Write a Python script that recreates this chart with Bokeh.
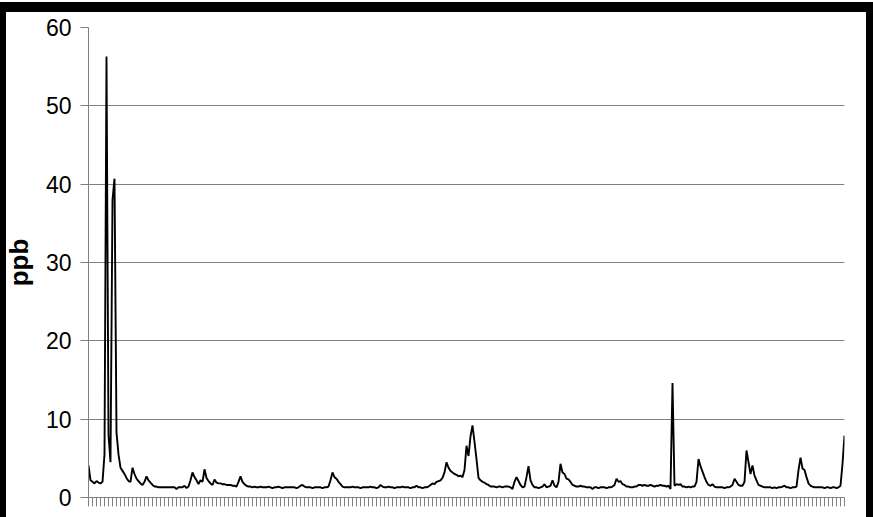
from bokeh.plotting import figure
from bokeh.models import FixedTicker, CustomJSTickFormatter, Range1d, GlobalInlineStyleSheet
from bokeh.embed import file_html
from bokeh.resources import INLINE

# ppb readings (one value per sample)
ppb_a = [4.1, 2.2, 2.0, 1.8, 2.1, 1.9, 1.8, 2.0,
         5.5, 56.3, 8.0, 4.5, 38.0, 40.7, 8.3, 5.5, 3.8,
         3.4, 3.0, 2.5, 2.1, 2.0,
         3.8, 3.0, 2.4, 2.1, 1.8, 1.6, 2.0, 2.7, 2.2, 1.9, 1.6, 1.4,
         1.4, 1.3, 1.3, 1.3, 1.3, 1.3, 1.3, 1.3, 1.3, 1.3,
         1.1, 1.3, 1.3, 1.3, 1.5, 1.2, 1.4,
         2.2, 3.2, 2.6, 2.2, 1.7, 2.2, 2.0, 3.6, 2.5, 2.1, 1.8, 1.6, 2.3, 1.9,
         1.8, 1.8, 1.7, 1.7, 1.6, 1.6, 1.6, 1.5, 1.5, 1.4,
         2.0, 2.7, 2.0, 1.7, 1.5]
ppb_b = [1.4, 1.4, 1.3, 1.4, 1.3, 1.3, 1.4, 1.3, 1.3, 1.3, 1.4, 1.3, 1.2, 1.3, 1.3, 1.4, 1.3, 1.2, 1.3, 1.3, 1.3,
         1.3, 1.3, 1.3, 1.2, 1.3, 1.5, 1.6, 1.4, 1.3, 1.3, 1.3, 1.2, 1.3, 1.3, 1.3, 1.3, 1.2, 1.3, 1.3, 1.4,
         2.2, 3.2, 2.6, 2.4, 2.0, 1.7, 1.4,
         1.3, 1.3, 1.3, 1.3, 1.4, 1.3, 1.3, 1.3, 1.2, 1.3, 1.3, 1.3, 1.3, 1.4, 1.3, 1.3, 1.2, 1.3,
         1.6, 1.4,
         1.3, 1.3, 1.4, 1.3, 1.3, 1.2, 1.3, 1.3, 1.3, 1.4, 1.3, 1.3, 1.3, 1.2, 1.3, 1.3,
         1.5, 1.3,
         1.3, 1.2, 1.3, 1.3, 1.4, 1.6]
ppb_c = [1.8, 1.7, 2.0, 2.1, 2.2, 2.5, 3.2, 4.5, 3.8, 3.4, 3.2, 3.0, 2.9, 2.7, 2.8, 2.6, 3.5,
         6.6, 5.3, 7.8, 9.2, 7.1, 4.9, 2.5, 2.2, 2.0, 1.9, 1.7, 1.6,
         1.4, 1.4, 1.4, 1.3, 1.4, 1.4, 1.3, 1.4, 1.4, 1.4, 1.3,
         1.1, 2.0, 2.6, 2.1, 1.6, 1.3, 1.4, 2.6, 4.0, 2.2, 1.6,
         1.3, 1.3, 1.2, 1.3, 1.4, 1.7,
         1.3, 1.4, 1.5, 2.2, 1.5, 1.3, 2.0, 4.3, 3.2, 3.0, 2.4, 2.3, 2.0, 1.6,
         1.5, 1.4, 1.4, 1.5, 1.4, 1.4, 1.3, 1.3,
         1.3, 1.1,
         1.3, 1.3, 1.2, 1.3, 1.3, 1.3, 1.2, 1.3, 1.3, 1.4, 1.6,
         2.4, 2.0, 2.1, 1.7, 1.6, 1.4, 1.4, 1.3, 1.3]
ppb_d = [1.4, 1.4, 1.6, 1.6, 1.5, 1.6, 1.5, 1.5, 1.6, 1.5, 1.4, 1.5, 1.5, 1.6, 1.5, 1.5, 1.4, 1.5,
         1.1, 14.6, 1.5, 1.7, 1.6, 1.7, 1.4,
         1.4, 1.3, 1.4, 1.3, 1.4, 1.4,
         2.0, 4.9, 4.0, 3.3, 2.6, 2.0, 1.6, 1.5, 1.7, 1.4,
         1.3, 1.3, 1.3, 1.3, 1.2, 1.3, 1.3, 1.4, 1.6,
         2.4, 2.0, 1.6, 1.5, 1.5, 2.0, 6.0, 4.5, 3.0, 4.1, 2.8, 2.2, 1.6, 1.5,
         1.4, 1.3, 1.3, 1.3, 1.3, 1.2, 1.3, 1.2, 1.3, 1.3, 1.4, 1.5, 1.3, 1.3, 1.2, 1.3, 1.3, 1.4,
         3.5, 5.1, 3.7, 3.5, 2.6, 1.8, 1.5,
         1.4, 1.3, 1.3, 1.3, 1.3, 1.3, 1.2, 1.3, 1.3, 1.2, 1.3, 1.3, 1.2, 1.3,
         1.5, 4.3, 7.9]

ppb = ppb_a + ppb_b + ppb_c + ppb_d
sample = list(range(len(ppb)))
y_ticks = [0, 10, 20, 30, 40, 50, 60]
grid_levels = [10, 20, 30, 40, 50]
y_title = "ppb"

W, H = 877, 517
p = figure(width=W, height=H, output_backend="svg", toolbar_location=None,
           x_range=Range1d(0, len(ppb) - 1), y_range=Range1d(0, 60),
           min_border_left=92, min_border_right=29, min_border_top=27, min_border_bottom=20)
p.background_fill_color = "white"
p.border_fill_color = None
p.outline_line_color = None
# white page behind the chart
p.stylesheets = [GlobalInlineStyleSheet(css="html, body { background: white; }")]
# thick black frame around the chart (inset shadows; the frame is cut at the bottom)
p.styles = {"margin-left": "-4px", "margin-top": "0px", "background-color": "white",
            "box-shadow": "inset 0px 2px 0px 0px white, inset 10px 0px 0px 0px black, "
                          "inset 0px 12px 0px 0px black, inset -7px 0px 0px 0px black"}

p.line(sample, ppb, line_color="black", line_width=1.9)

grey = "#808080"
# y axis
p.yaxis.ticker = FixedTicker(ticks=y_ticks)
p.yaxis.minor_tick_line_color = None
p.yaxis.major_tick_in = 0
p.yaxis.major_tick_out = 8
p.yaxis.axis_line_color = grey
p.yaxis.major_tick_line_color = grey
p.yaxis.major_label_text_font = "Liberation Sans"
p.yaxis.major_label_text_font_size = "23px"
p.yaxis.major_label_text_color = "black"
p.yaxis.major_label_standoff = 9
p.yaxis.axis_label = y_title
p.yaxis.axis_label_text_font = "Liberation Sans"
p.yaxis.axis_label_text_font_style = "bold"
p.yaxis.axis_label_text_font_size = "26px"
p.yaxis.axis_label_text_color = "black"
p.yaxis.axis_label_standoff = 9

# x axis: dense unlabeled ticks
p.xaxis.ticker = FixedTicker(ticks=sample[::2])
p.xaxis.formatter = CustomJSTickFormatter(code="return ''")
p.xaxis.major_label_text_font_size = "0px"
p.xaxis.major_label_standoff = 0
p.xaxis.minor_tick_line_color = None
p.xaxis.major_tick_in = 0
p.xaxis.major_tick_out = 9
p.xaxis.axis_line_color = grey
p.xaxis.major_tick_line_color = grey

p.xgrid.visible = False
p.ygrid.ticker = FixedTicker(ticks=grid_levels)
p.ygrid.grid_line_color = grey
p.ygrid.grid_line_width = 1

open("out.html", "w").write(file_html(p, INLINE))
